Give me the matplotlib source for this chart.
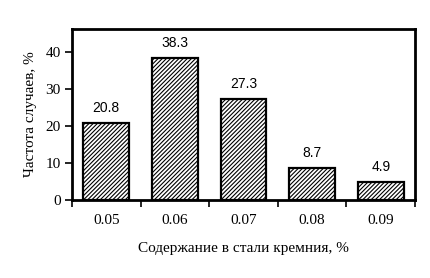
import numpy as np
import matplotlib
matplotlib.use("Agg")
import matplotlib.pyplot as plt

plt.rcParams['hatch.linewidth'] = 0.8

categories = ['0.05', '0.06', '0.07', '0.08', '0.09']
values = [20.8, 38.3, 27.3, 8.7, 4.9]
yticks = [0, 10, 20, 30, 40]

fig = plt.figure(figsize=(4.3, 2.78), dpi=100)
ax = fig.add_axes([72 / 430, 1 - 200 / 278, 343 / 430, 171 / 278])

x = np.arange(len(categories))
ax.bar(x, values, width=0.67, color='white', edgecolor='black',
       linewidth=1.6, hatch='////////')
for xi, v in zip(x, values):
    ax.text(xi, v + 2.2, '%.1f' % v, ha='center', va='bottom',
            fontsize=10, family='Liberation Sans')

ax.set_xlim(-0.5, len(categories) - 0.5)
ax.set_ylim(0, 46.1)
ax.set_yticks(yticks)
ax.set_xticks(x)
ax.set_xticklabels(categories, family='Liberation Serif', fontsize=11)
ax.set_xticks(np.arange(len(categories) + 1) - 0.5, minor=True)
ax.tick_params(axis='x', which='major', length=0, pad=10)
ax.tick_params(axis='x', which='minor', length=5, width=1.2, direction='out')
ax.tick_params(axis='y', length=5, width=1.2, direction='out', pad=3)
for lab in ax.get_yticklabels():
    lab.set_family('Liberation Serif')
    lab.set_fontsize(11)
for s in ax.spines.values():
    s.set_linewidth(2)

ax.set_xlabel('Содержание в стали кремния, %', family='Liberation Serif',
              fontsize=11, labelpad=11)
ax.set_ylabel('Частота случаев, %', family='Liberation Serif',
              fontsize=11, labelpad=6)

fig.savefig('out.png', dpi=100)
